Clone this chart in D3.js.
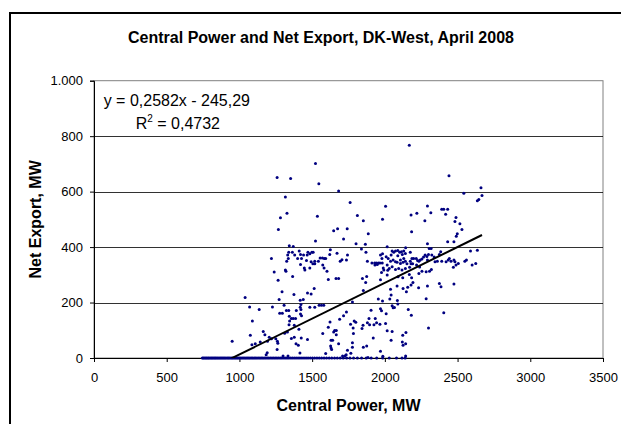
<!DOCTYPE html>
<html>
<head>
<meta charset="utf-8">
<script src="https://cdn.jsdelivr.net/npm/d3@7"></script>
<style>
  html, body { margin: 0; padding: 0; background: #fff; }
  svg { display: block; font-family: "Liberation Sans", Arial, sans-serif; }
</style>
</head>
<body>
<svg id="chart" width="621" height="424"></svg>
<script>
// ---- Chart data ----
const chartTitle = "Central Power and Net Export, DK-West, April 2008";
const xAxisTitle = "Central Power, MW";
const yAxisTitle = "Net Export, MW";
const xTicks = [0, 500, 1000, 1500, 2000, 2500, 3000, 3500];
const yTicks = [0, 200, 400, 600, 800, 1000];
const yTickLabels = ["0", "200", "400", "600", "800", "1.000"];
const trendSlope = 0.2582;
const trendIntercept = -245.29;
const trendLabel = "y = 0,2582x - 245,29";
const r2Value = "0,4732";

// Central power (MW) for hours with positive net export
const powerA = [1523,1259,1352,1546,1682,1316,1327,1282,1536,1268,1648,1675,1523,1716,1343,1370,1339,1364,1332,1380,
  1411,1420,1441,1471,1484,1498,1507,1466,1400,1427,1461,1493,1518,1543,1555,1571,1584,1593,1621,1625,
  1671,1693,1705,1220,1325,1336,1420,1446,1450,1484,1505,1518,1573,1582,1602,1316,1320,1239,1366,1266,
  1611,1664,1682,1514,1293,1375,1468,1493,1418,1439,1273,1039,1070,1136,1227,1307,1323,1277,1295,1339,
  1391,1418,1423,1423,1484,1518,1548,1564,1580,1370,1343,1420,1427,1357,1345,1341,1386,1089,1377,1409,
  1623,1611,1164,1175,1573,1648,1655,1666,1666,1630,1641,1075,1205,1220,1250,1261,1311,1330,1357,1377,
  1425,1468,1109,1086,1143,1193,1264,1389,1405,1627,1630,1634,1259,1191,1184,1416,1593,950,1682,1689,
  1716,1300,1334,1709];
const exportA = [701,651,647,628,602,581,522,506,511,463,459,466,422,429,405,402,381,381,371,371,
  386,373,371,381,376,381,381,371,359,359,352,347,349,349,361,361,359,359,373,390,
  378,349,354,359,349,359,337,325,317,325,340,340,335,325,313,317,313,310,294,280,
  283,287,287,251,239,229,234,231,208,211,211,218,184,175,184,190,171,161,161,171,
  171,183,193,175,183,183,190,190,190,142,151,159,152,142,133,120,142,133,118,104,
  130,111,96,84,88,94,99,99,84,64,64,82,75,69,69,60,89,94,70,75,
  72,67,51,48,58,60,53,51,46,43,36,31,31,19,12,18,16,60,51,140,
  152,7,7,7];
const powerB = [2168,2441,2661,2543,2668,2646,2636,1761,2005,2293,2316,2220,2180,2391,2405,2432,2418,1811,1984,2489,
  1852,2275,2482,2516,1741,1886,2184,2530,2498,2491,2475,2432,2293,1802,1866,2016,2143,2305,2318,2636,
  2589,1743,1736,1839,1870,1911,1930,1941,1955,1966,1982,1970,1984,1980,2009,2023,2043,2050,2061,2073,
  2089,2102,2114,2130,2120,2141,2089,2107,2130,2039,2057,2073,2084,2107,2125,2141,2152,2175,2180,2191,
  2186,2175,2198,2216,2225,2243,2255,2266,2277,2289,2293,2300,2323,2339,2345,2361,2375,2384,2391,2421,
  2436,2443,2455,2475,2482,2489,2471,2505,2550,2561,2600,2625,2016,2030,2050,2073,2095,2118,2141,2170,
  1989,1993,2020,2234,2255,2284,2307,2320,1970,1977,1948,1932,1880,2016,2091,2123,2168,2184,2193,2218,
  2234,2239,2180,2157,2084,2039,2125,2148,2232,2293,2375,2386,2475,1875,1846,1868,1852,2043,2034,1955,
  1984,2086,2089,1777,1736,1905,1970,1977,2050,2057,2066,2009,2161,2182,2284,2405,1891,1934,1943,1895,
  1925,1789,1800,1764,1782,1784,1850,1843,1880,1966,2005,2016,2050,2300,2123,2145,1920,2043,2120,2143,
  2125,1777,1777,1852,1875,1743,1734,1725,1766,1970,1986,2143,1884];
const exportB = [767,657,614,594,586,572,567,561,547,548,524,522,516,536,536,536,518,514,500,507,
  495,495,492,484,466,448,455,463,448,439,419,419,412,412,410,401,398,395,395,389,
  386,371,353,393,381,343,343,343,343,343,343,371,376,359,365,359,371,386,381,386,
  388,381,383,386,373,377,369,353,359,349,353,347,345,341,345,349,340,349,340,340,
  359,381,359,359,352,353,357,364,371,366,353,373,371,364,347,349,373,383,349,347,
  353,359,349,353,347,335,327,341,349,353,335,341,335,323,329,319,323,317,323,327,
  325,317,316,305,313,311,313,319,282,308,337,335,349,299,293,289,301,289,272,335,
  349,328,263,255,260,248,251,239,253,260,269,257,267,294,287,272,243,227,213,213,
  206,207,195,202,166,172,178,170,188,181,182,160,175,154,214,163,142,142,127,120,
  120,133,129,122,108,88,118,106,127,122,124,98,96,108,82,92,72,64,58,51,
  46,55,39,39,43,28,12,7,17,24,6,7,2];
// Hours with zero net export (central power, MW)
const powerZero = [745,752,760,768,775,783,790,798,806,813,821,829,836,844,852,860,868,876,884,892,
  900,908,917,925,933,942,950,958,967,975,984,992,1001,1010,1019,1028,1037,1046,1055,1064,
  1073,1083,1092,1102,1111,1121,1131,1141,1151,1161,1171,1181,1192,1202,1213,1224,1235,1246,1257,1268,
  1280,1291,1303,1315,1327,1339,1352,1364,1377,1390,1403,1416,1430,1444,1458,1472,1487,1502,1517,1533,
  1549,1565,1582,1599,1617,1635,1654,1673,1693,1714,1737,1760,1785,1811,1840,1872,1906,1944,1985,2030,
  2080,2118,2140];

const power = powerA.concat(powerB, powerZero);
const netExport = exportA.concat(exportB, powerZero.map(() => 0));

// ---- Layout ----
const svg = d3.select("#chart");
const plot = { left: 94, right: 603, top: 80.7, bottom: 358 };

const x = d3.scaleLinear().domain([0, 3500]).range([plot.left, plot.right]);
const y = d3.scaleLinear().domain([0, 1000]).range([plot.bottom, plot.top]);

// chart frame (extends past the right / bottom edges like the reference)
svg.append("rect")
  .attr("x", 10).attr("y", 13).attr("width", 640).attr("height", 440)
  .attr("fill", "#fff").attr("stroke", "#000").attr("stroke-width", 2);

// title
svg.append("text")
  .attr("x", 321).attr("y", 43)
  .attr("text-anchor", "middle")
  .attr("font-size", 16).attr("font-weight", "bold")
  .text(chartTitle);

// plot area border
svg.append("rect")
  .attr("x", plot.left).attr("y", plot.top)
  .attr("width", plot.right - plot.left).attr("height", plot.bottom - plot.top)
  .attr("fill", "#fff").attr("stroke", "#808080").attr("stroke-width", 1);

// gridlines
svg.append("g").selectAll("line")
  .data(yTicks.filter(d => d > 0 && d < 1000))
  .join("line")
  .attr("x1", plot.left).attr("x2", plot.right)
  .attr("y1", d => Math.round(y(d)) + 0.5).attr("y2", d => Math.round(y(d)) + 0.5)
  .attr("stroke", "#000").attr("stroke-width", 1).attr("opacity", 0.8);

// axes
const xAxis = d3.axisBottom(x).tickValues(xTicks).tickSize(4).tickPadding(11).tickFormat(d3.format("d"));
const gx = svg.append("g").attr("transform", `translate(0,${plot.bottom})`).call(xAxis);
gx.select(".domain").attr("stroke", "#000");
gx.selectAll(".tick line").attr("stroke", "#000");
gx.selectAll("text").attr("font-size", 13).attr("fill", "#000")
  .attr("font-family", "Liberation Sans, Arial, sans-serif");

const yAxis = d3.axisLeft(y).tickValues(yTicks).tickSize(4).tickPadding(7)
  .tickFormat((d, i) => yTickLabels[i]);
const gy = svg.append("g").attr("transform", `translate(${plot.left},0)`).call(yAxis);
gy.select(".domain").attr("stroke", "#000");
gy.selectAll(".tick line").attr("stroke", "#000");
gy.selectAll("text").attr("font-size", 13).attr("fill", "#000")
  .attr("font-family", "Liberation Sans, Arial, sans-serif");

// scatter points
const pts = d3.range(power.length).map(i => ({ px: power[i], ny: netExport[i] }));
svg.append("g").selectAll("circle")
  .data(pts)
  .join("circle")
  .attr("cx", d => x(d.px)).attr("cy", d => y(d.ny))
  .attr("r", 1.5)
  .attr("fill", "#000080");

// trendline, clipped to plot area
svg.append("clipPath").attr("id", "clip")
  .append("rect").attr("x", plot.left).attr("y", plot.top)
  .attr("width", plot.right - plot.left).attr("height", plot.bottom - plot.top);
const [xmin, xmax] = d3.extent(power);
svg.append("line")
  .attr("clip-path", "url(#clip)")
  .attr("x1", x(xmin)).attr("y1", y(trendSlope * xmin + trendIntercept))
  .attr("x2", x(xmax)).attr("y2", y(trendSlope * xmax + trendIntercept))
  .attr("stroke", "#000").attr("stroke-width", 2);

// equation labels
svg.append("text")
  .attr("x", 250).attr("y", 106)
  .attr("text-anchor", "end").attr("font-size", 16)
  .text(trendLabel);
const r2 = svg.append("text")
  .attr("x", 220).attr("y", 128.5)
  .attr("text-anchor", "end").attr("font-size", 16);
r2.append("tspan").text("R");
r2.append("tspan").attr("font-size", 10).attr("dy", -7).text("2");
r2.append("tspan").attr("dy", 7).text(" = " + r2Value);

// axis titles
svg.append("text")
  .attr("x", (plot.left + plot.right) / 2).attr("y", 411)
  .attr("text-anchor", "middle")
  .attr("font-size", 16).attr("font-weight", "bold")
  .text(xAxisTitle);

svg.append("text")
  .attr("transform", `translate(41,${(plot.top + plot.bottom) / 2}) rotate(-90)`)
  .attr("text-anchor", "middle")
  .attr("font-size", 16).attr("font-weight", "bold")
  .text(yAxisTitle);
</script>
</body>
</html>
